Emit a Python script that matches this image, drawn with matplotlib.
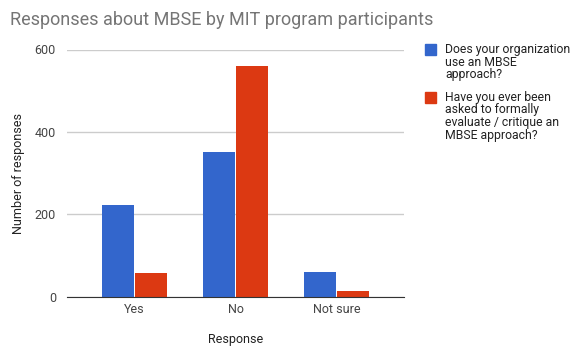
import matplotlib
matplotlib.use("Agg")
import matplotlib.pyplot as plt
from matplotlib.patches import Rectangle
import numpy as np

categories = ["Yes", "No", "Not sure"]
series_names = [
    "Does your organization\nuse an MBSE\napproach?",
    "Have you ever been\nasked to formally\nevaluate / critique an\nMBSE approach?",
]
series_colors = ["#3366CC", "#DC3912"]
uses_mbse = [223, 350, 60]
asked_to_evaluate = [56, 561, 14]
yticks = [0, 200, 400, 600]

plt.rcParams["font.family"] = ["Roboto", "DejaVu Sans"]

W, H = 581, 354
fig = plt.figure(figsize=(5.81, 3.54), dpi=100)
ax = fig.add_axes([67 / W, 1 - 296.5 / H, 337 / W, 247 / H])

x = np.arange(len(categories))
w = 0.32
ax.bar(x - w / 2 - 0.005, uses_mbse, w, color=series_colors[0], zorder=3)
ax.bar(x + w / 2 + 0.005, asked_to_evaluate, w, color=series_colors[1], zorder=3)

ax.set_xlim(-0.67, 2.67)
ax.set_ylim(0, 600)
ax.set_yticks(yticks)
ax.set_xticks(x)
ax.set_xticklabels(categories)
ax.tick_params(axis="both", length=0, labelsize=9, labelcolor="#444444")
ax.tick_params(axis="y", pad=8)
ax.tick_params(axis="x", pad=5)
ax.grid(axis="y", color="#cccccc", linewidth=1, zorder=0)
for s in ["top", "right", "left"]:
    ax.spines[s].set_visible(False)
ax.spines["bottom"].set_color("#333333")
ax.spines["bottom"].set_zorder(4)

ax.set_ylabel("Number of responses", fontsize=9, color="#222222", labelpad=7)
ax.set_xlabel("Response", fontsize=9, color="#222222", labelpad=12)

fig.text(10 / W, 1 - 20 / H, "Responses about MBSE by MIT program participants",
         fontsize=13, color="#757575", va="center", ha="left")

# legend drawn by hand: square sits at the first text line
legend_tops = [44, 92]
for top, name, col in zip(legend_tops, series_names, series_colors):
    fig.patches.append(Rectangle((425 / W, 1 - (top + 11) / H), 11 / W, 11 / H,
                                 transform=fig.transFigure, color=col))
    fig.text(445 / W, 1 - (top - 1) / H, name, fontsize=8.8, color="#222222",
             va="top", ha="left", linespacing=0.95)

fig.savefig("out.png", dpi=100)
